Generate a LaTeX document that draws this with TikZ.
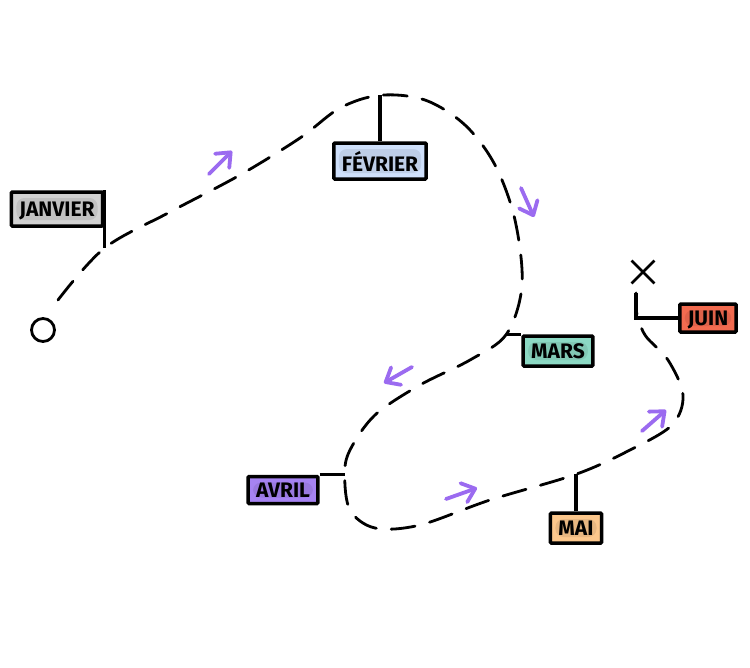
\documentclass[tikz,border=0pt]{standalone}
\usepackage{fontspec}
\setmainfont{Fira Sans}
\usetikzlibrary{arrows.meta,shapes.misc}

\definecolor{hintpurple}{HTML}{9B6BF0}
\definecolor{jancol}{HTML}{D2D2D2}
\definecolor{fevcol}{HTML}{CFE0FB}
\definecolor{marcol}{HTML}{8CD9C4}
\definecolor{avrcol}{HTML}{A683F2}
\definecolor{maicol}{HTML}{FCC78C}
\definecolor{juicol}{HTML}{F26B50}

\tikzset{
  flag/.style={draw, line width=3.5pt, fill=#1, rounded corners=1pt,
    minimum height=30pt, inner xsep=8pt, text depth=0pt,
    font=\fontsize{21}{21}\selectfont\bfseries,
    path picture={\fill[#1!92!black, rounded corners=8pt]
      ([shift={(5pt,6pt)}]path picture bounding box.south west) rectangle
      ([shift={(-5pt,-6pt)}]path picture bounding box.north east);}},
  route/.style={line width=2.8pt, line cap=round, dash pattern=on 24pt off 15pt},
  pole/.style={line width=3.2pt},
  hint/.style={draw=hintpurple, line width=3.8pt, line cap=round,
    -{Straight Barb[length=12pt,width=20pt,round]}}
}

\begin{document}
\begin{tikzpicture}[x=1pt,y=-1pt]
\useasboundingbox (0,0) rectangle (750,667);

% start and end of the trip
\node[circle, draw, line width=2.8pt, minimum size=23pt, inner sep=0pt] (start) at (43,330) {};
\node[cross out, draw, line width=2.8pt, minimum size=20pt, inner sep=0pt] (finish) at (643,272) {};

% month flags
\node[flag=jancol, minimum height=34pt] (janvier) at (57,209) {JANVIER};
\node[flag=fevcol, minimum height=36pt] (fevrier) at (380,161) {FÉVRIER};
\node[flag=marcol] (mars) at (558,351) {MARS};
\node[flag=avrcol, minimum height=27pt] (avril) at (283,490) {AVRIL};
\node[flag=maicol] (mai) at (576,528) {MAI};
\node[flag=juicol, minimum height=28pt] (juin) at (708,318) {JUIN};

% where the poles meet the route
\coordinate (jfoot) at ([yshift=-58pt]janvier.north east);
\coordinate (ffoot) at ([yshift=46pt]fevrier.north);
\coordinate (mfoot) at ([xshift=-15pt]mars.north west);
\coordinate (afoot) at ([xshift=25pt]avril.north east);
\coordinate (maifoot) at ([yshift=37pt]mai.north);
\coordinate (jufoot) at ([xshift=-42pt,yshift=25pt]juin.west);

\draw[route] plot[smooth, tension=0.55] coordinates {
  (58,300) (jfoot) (170,212) (240,175) (300,138) (340,108) (ffoot)
  (425,100) (465,125) (495,165) (515,220) (522,285) (mfoot)
  (470,360) (420,385) (375,415) (350,450) (afoot) (350,510) (375,528)
  (420,525) (490,500) (maifoot) (630,450) (672,425) (683,395) (668,360)
  (645,335) (636,310) (jufoot)};

\draw[pole] (janvier.north east) -- (jfoot);
\draw[pole] (fevrier.north) -- (ffoot);
\draw[pole] (mars.north west) -- (mfoot);
\draw[pole] (avril.north east) -- (afoot);
\draw[pole] (mai.north) -- (maifoot);
\draw[pole] (juin.west) -| (jufoot);

% direction hints
\draw[hint] (209,174) -- (232,151);
\draw[hint] (521,188) -- (534,217);
\draw[hint] (412,367) -- (384,383);
\draw[hint] (446,499) -- (477,488);
\draw[hint] (642,431) -- (666,410);
\end{tikzpicture}
\end{document}
